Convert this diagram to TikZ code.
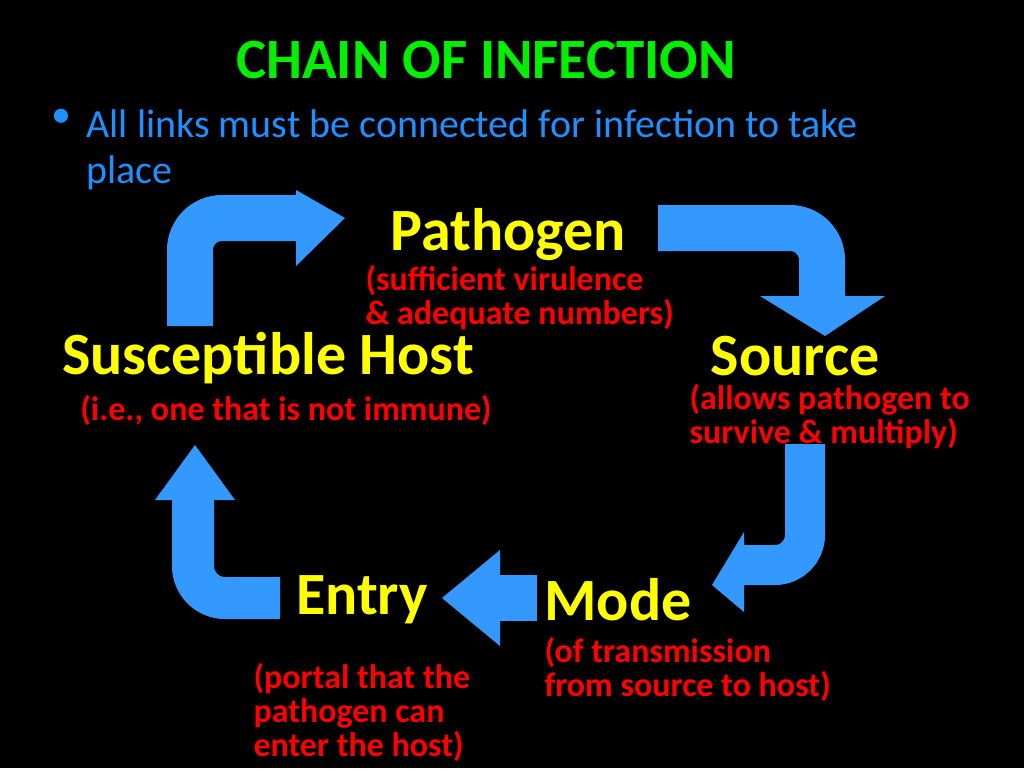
\documentclass[tikz,border=0pt]{standalone}
\usepackage{fontspec}
\setmainfont{Carlito}
\definecolor{arrowblue}{RGB}{51,153,255}
\definecolor{titlegreen}{RGB}{0,240,0}
\definecolor{textblue}{RGB}{30,144,255}
\definecolor{nameyellow}{RGB}{255,255,0}
\definecolor{notered}{RGB}{255,0,0}
\begin{document}
\begin{tikzpicture}[x=1pt,y=-1pt,
  link/.style={font=\bfseries\fontsize{60}{64}\selectfont, text=nameyellow},
  note/.style={font=\bfseries\fontsize{34}{34}\selectfont, text=notered, align=left},
  shaft/.style={draw=arrowblue, line width=46pt},
  head/.style={fill=arrowblue}]
  \fill[black] (0,0) rectangle (1024,768);
  \useasboundingbox (0,0) rectangle (1024,768);
  % Titel und Aufzaehlung
  \node[font=\bfseries\fontsize{57}{60}\selectfont, text=titlegreen] (title) at (486,60) {CHAIN OF INFECTION};
  \node[font=\fontsize{40}{46}\selectfont, text=textblue, anchor=north west] (bullet) at (48,106) {\textbullet};
  \node[font=\fontsize{40}{46}\selectfont, text=textblue, anchor=north west, align=left] (intro) at (83,106) {All links must be connected for infection to take\\place};
  % Glieder der Kette
  \node[link] (pathogen) at (508,235) {Pathogen};
  \node[note, anchor=north west] (pathnote) at (362,262) {(sufficient virulence\\\& adequate numbers)};
  \node[link] (source) at (795,356) {Source};
  \node[note, anchor=north west] (sourcenote) at (686,381) {(allows pathogen to\\survive \& multiply)};
  \node[link] (mode) at (618,600) {Mode};
  \node[note, anchor=north west] (modenote) at (541,634) {(of transmission\\from source to host)};
  \node[link] (entry) at (362,600) {Entry};
  \node[note, anchor=north west] (entrynote) at (250,660) {(portal that the\\pathogen can\\enter the host)};
  \node[link] (host) at (268,358) {Susceptible Host};
  \node[note] (hostnote) at (286,410) {(i.e., one that is not immune)};
  % Pfeile
  \draw[shaft] (190,326) -- (190,250) arc[start angle=180, end angle=270, radius=32] -- (300,218);
  \fill[head] (296,190) -- (345,218) -- (296,266) -- cycle;
  \draw[shaft] (658,228) -- (790,228) arc[start angle=-90, end angle=0, radius=32] -- (822,298);
  \fill[head] (760,296) -- (885,296) -- (825,336) -- cycle;
  \draw[shaft, line width=40pt] (805,444) -- (805,535) arc[start angle=0, end angle=90, radius=30] -- (740,565);
  \fill[head] (744,532) -- (712,585) -- (744,612) -- cycle;
  \draw[shaft] (537,598) -- (495,598);
  \fill[head] (500,550) -- (442,598) -- (500,646) -- cycle;
  \draw[shaft, line width=42pt] (280,598) -- (225,598) arc[start angle=90, end angle=180, radius=32] -- (193,495);
  \fill[head] (155,500) -- (195,445) -- (235,500) -- cycle;
\end{tikzpicture}
\end{document}
